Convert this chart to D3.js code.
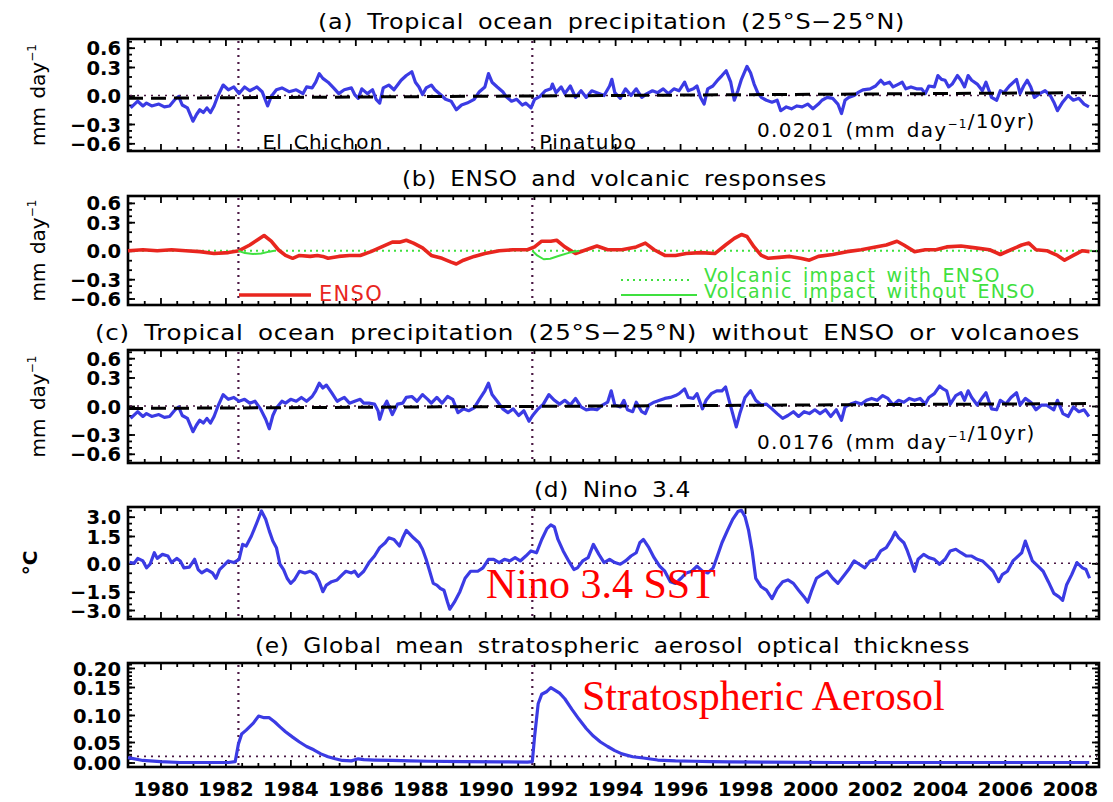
<!DOCTYPE html>
<html>
<head>
<meta charset="utf-8">
<script src="https://cdn.jsdelivr.net/npm/d3@7"></script>
<style>
  body { margin: 0; background: #fff; }
  svg text { font-family: "DejaVu Sans", sans-serif; }
</style>
</head>
<body>
<div id="chart"></div>
<script>
// ---- data ----
const xTickYears = d3.range(1980, 2009, 2);
const volcanoYears = [1982.4, 1991.45];
const volcanoNames = ["El Chichon", "Pinatubo"];

const precipTicks = [-0.6, -0.3, 0, 0.3, 0.6];
const ninoTicks = [-3, -1.5, 0, 1.5, 3];
const aodTicks = [0, 0.05, 0.10, 0.15, 0.20];

// (a) tropical ocean precipitation anomaly
const yearsA = [1979.08,1979.30,1979.46,1979.57,1979.73,1979.95,1980.12,1980.28,1980.45,1980.56,1980.67,1980.83,1980.94,1981.00,1981.11,1981.21,1981.32,1981.43,1981.54,1981.65,1981.76,1981.93,1982.09,1982.26,1982.42,1982.59,1982.75,1982.97,1983.13,1983.30,1983.41,1983.57,1983.74,1983.96,1984.18,1984.39,1984.50,1984.67,1984.78,1984.89,1985.00,1985.16,1985.33,1985.49,1985.66,1985.88,1985.98,1986.09,1986.20,1986.37,1986.53,1986.64,1986.75,1986.86,1987.03,1987.19,1987.41,1987.57,1987.74,1987.85,1987.96,1988.07,1988.18,1988.34,1988.45,1988.62,1988.78,1988.95,1989.11,1989.27,1989.44,1989.66,1989.82,1989.99,1990.10,1990.21,1990.37,1990.54,1990.64,1990.81,1990.97,1991.14,1991.25,1991.41,1991.52,1991.69,1991.85,1992.02,1992.07,1992.18,1992.34,1992.45,1992.62,1992.78,1992.95,1993.11,1993.28,1993.44,1993.66,1993.83,1993.90,1993.99,1994.16,1994.32,1994.49,1994.65,1994.82,1994.98,1995.15,1995.31,1995.48,1995.64,1995.81,1995.97,1996.14,1996.25,1996.41,1996.52,1996.63,1996.74,1996.85,1997.01,1997.18,1997.29,1997.42,1997.56,1997.67,1997.78,1997.89,1998.06,1998.17,1998.28,1998.39,1998.50,1998.66,1998.83,1998.99,1999.10,1999.27,1999.43,1999.60,1999.76,1999.93,2000.09,2000.26,2000.37,2000.53,2000.70,2000.86,2000.97,2001.08,2001.19,2001.36,2001.47,2001.63,2001.85,2002.02,2002.18,2002.29,2002.45,2002.56,2002.73,2002.84,2002.95,2003.11,2003.28,2003.44,2003.55,2003.66,2003.83,2003.94,2004.05,2004.16,2004.27,2004.38,2004.54,2004.65,2004.76,2004.87,2004.98,2005.15,2005.31,2005.42,2005.59,2005.75,2005.86,2005.97,2006.14,2006.36,2006.47,2006.58,2006.69,2006.80,2006.91,2007.07,2007.24,2007.40,2007.51,2007.62,2007.78,2007.95,2008.11,2008.28,2008.44,2008.59];
const precipA = [-0.13,-0.06,-0.11,-0.08,-0.11,-0.09,-0.12,-0.11,-0.04,-0.01,-0.10,-0.13,-0.22,-0.27,-0.20,-0.15,-0.18,-0.13,-0.18,-0.11,-0.01,0.11,0.06,0.09,0.02,0.09,0.05,0.09,0.04,-0.11,-0.01,0.06,0.08,0.04,0.06,0.02,0.09,0.08,0.14,0.23,0.18,0.14,0.08,0.02,0.06,0.08,0.01,-0.03,0.07,0.02,0.06,-0.04,-0.08,0.08,0.11,0.06,0.16,0.21,0.25,0.14,0.09,0.01,0.08,0.11,0.06,0.01,-0.04,-0.06,-0.15,-0.10,-0.08,-0.04,0.04,0.09,0.23,0.14,0.09,0.04,-0.01,-0.06,-0.04,-0.10,-0.08,-0.13,-0.04,-0.01,0.05,0.07,0.12,0.03,0.09,0.02,0.10,-0.02,0.05,-0.02,0.05,0.03,0.00,0.10,0.17,0.03,-0.03,0.07,0.00,0.07,-0.02,0.02,0.05,0.03,0.07,0.02,0.07,0.05,0.14,0.05,0.07,0.10,-0.02,-0.09,0.07,0.10,0.17,0.21,0.26,0.14,-0.05,0.05,0.17,0.31,0.24,0.12,0.03,-0.02,-0.05,-0.07,-0.05,-0.16,-0.12,-0.14,-0.11,-0.12,-0.09,-0.14,-0.09,-0.05,-0.02,-0.03,-0.09,-0.19,-0.05,-0.02,0.00,0.03,0.06,0.07,0.10,0.16,0.12,0.14,0.09,0.12,0.14,0.07,0.09,0.07,0.07,0.02,0.10,0.09,0.21,0.17,0.16,0.09,0.12,0.21,0.16,0.09,0.21,0.16,0.12,0.05,0.14,-0.02,-0.05,0.05,0.03,0.10,0.17,0.02,0.10,0.16,0.09,-0.02,0.02,0.05,0.00,-0.07,-0.16,-0.07,0.00,-0.05,-0.03,-0.09,-0.12];

// trend lines (end points), slopes printed on the panels
const trendYears = [1979.0, 2008.7];
const trendA = [-0.030, 0.030];
const trendC = [-0.026, 0.026];

// (b) ENSO response and volcanic response
const yearsEnso = [1979.00,1979.46,1979.90,1980.34,1980.78,1981.21,1981.65,1982.09,1982.42,1982.75,1982.97,1983.19,1983.41,1983.63,1983.85,1984.07,1984.28,1984.61,1984.83,1985.00,1985.16,1985.49,1985.82,1986.15,1986.48,1986.81,1987.14,1987.36,1987.57,1987.79,1988.07,1988.34,1988.67,1988.95,1989.11,1989.33,1989.66,1989.99,1990.43,1990.86,1991.30,1991.52,1991.74,1992.02,1992.20,1992.45,1992.78,1993.11,1993.44,1993.77,1994.21,1994.65,1994.93,1995.20,1995.53,1995.86,1996.19,1996.63,1997.07,1997.40,1997.67,1997.89,1998.06,1998.28,1998.50,1998.72,1999.05,1999.38,1999.71,1999.98,2000.26,2000.70,2001.14,2001.58,2002.02,2002.35,2002.68,2002.89,2003.22,2003.55,2003.88,2004.21,2004.65,2005.09,2005.53,2005.86,2006.19,2006.52,2006.74,2006.96,2007.29,2007.62,2007.84,2008.11,2008.39,2008.61];
const enso = [0.00,0.01,0.00,0.01,0.00,-0.01,-0.03,-0.02,0.00,0.06,0.11,0.16,0.10,0.01,-0.05,-0.08,-0.05,-0.06,-0.05,-0.06,-0.08,-0.06,-0.05,-0.05,-0.01,0.04,0.09,0.09,0.11,0.08,0.03,-0.05,-0.08,-0.12,-0.14,-0.10,-0.06,-0.03,0.00,0.01,0.01,0.04,0.10,0.10,0.11,0.04,-0.03,0.01,0.05,0.01,0.01,0.04,0.08,0.01,-0.05,-0.05,-0.03,-0.02,-0.03,0.06,0.13,0.17,0.15,0.04,-0.05,-0.08,-0.07,-0.06,-0.08,-0.10,-0.06,-0.04,-0.01,0.01,0.04,0.06,0.10,0.06,-0.01,0.01,0.01,0.04,0.05,0.03,0.01,-0.04,0.01,0.06,0.08,0.01,0.00,-0.05,-0.10,-0.05,0.00,-0.01];
const yearsVolc = [1982.40,1982.60,1982.85,1983.10,1983.35,1983.50,null,1991.45,1991.60,1991.80,1992.00,1992.30,1992.60,1992.90];
const volcNoEnso = [0.00,-0.025,-0.035,-0.03,-0.01,0.00,null,0.00,-0.05,-0.09,-0.085,-0.05,-0.02,0.00];

// (c) precipitation without ENSO or volcanoes
const yearsC = [1979.08,1979.30,1979.46,1979.57,1979.73,1979.95,1980.12,1980.28,1980.45,1980.56,1980.67,1980.83,1980.94,1981.00,1981.11,1981.21,1981.32,1981.43,1981.54,1981.65,1981.76,1981.93,1982.09,1982.26,1982.42,1982.59,1982.75,1982.91,1983.08,1983.24,1983.35,1983.46,1983.57,1983.74,1983.85,1984.01,1984.18,1984.34,1984.50,1984.67,1984.78,1984.89,1985.00,1985.11,1985.27,1985.44,1985.54,1985.66,1985.82,1985.98,1986.15,1986.26,1986.42,1986.59,1986.70,1986.75,1986.86,1986.97,1987.14,1987.30,1987.46,1987.57,1987.74,1987.90,1988.07,1988.23,1988.34,1988.51,1988.67,1988.84,1989.00,1989.16,1989.33,1989.49,1989.66,1989.82,1989.99,1990.10,1990.21,1990.37,1990.54,1990.70,1990.86,1991.03,1991.19,1991.35,1991.46,1991.63,1991.79,1991.96,1992.13,1992.29,1992.45,1992.62,1992.78,1992.95,1993.11,1993.28,1993.44,1993.61,1993.77,1993.88,1993.99,1994.16,1994.27,1994.38,1994.54,1994.65,1994.82,1994.93,1995.04,1995.20,1995.37,1995.53,1995.70,1995.86,1995.97,1996.14,1996.25,1996.41,1996.52,1996.69,1996.80,1996.96,1997.13,1997.29,1997.40,1997.51,1997.62,1997.73,1997.84,1998.00,1998.17,1998.33,1998.50,1998.66,1998.83,1998.99,1999.16,1999.32,1999.49,1999.65,1999.82,1999.98,2000.15,2000.31,2000.48,2000.64,2000.81,2000.97,2001.08,2001.25,2001.41,2001.58,2001.74,2001.90,2002.07,2002.24,2002.40,2002.56,2002.73,2002.89,2003.06,2003.22,2003.39,2003.55,2003.66,2003.83,2003.99,2004.10,2004.21,2004.32,2004.49,2004.65,2004.76,2004.87,2004.98,2005.15,2005.31,2005.42,2005.59,2005.75,2005.86,2006.03,2006.19,2006.36,2006.47,2006.63,2006.80,2006.96,2007.13,2007.29,2007.51,2007.62,2007.79,2007.95,2008.11,2008.28,2008.44,2008.59];
const precipC = [-0.13,-0.06,-0.11,-0.08,-0.11,-0.09,-0.12,-0.11,-0.04,-0.01,-0.10,-0.13,-0.22,-0.27,-0.20,-0.15,-0.18,-0.13,-0.18,-0.11,-0.01,0.12,0.07,0.09,0.05,0.07,0.03,0.05,-0.03,-0.14,-0.24,-0.10,-0.02,0.05,0.03,0.07,0.05,0.09,0.05,0.10,0.16,0.24,0.19,0.22,0.14,0.05,0.07,0.09,0.03,0.05,0.07,0.03,0.03,0.02,-0.05,-0.14,-0.02,0.05,-0.09,0.02,0.03,0.09,0.10,0.05,0.12,0.07,0.03,0.09,0.03,0.10,0.07,-0.07,-0.03,-0.05,-0.02,0.07,0.16,0.24,0.12,0.05,-0.03,-0.07,-0.03,-0.10,-0.05,-0.16,-0.10,-0.03,0.02,0.12,0.06,0.02,0.06,0.01,0.08,-0.01,-0.04,-0.03,-0.04,0.01,0.04,0.16,0.01,-0.01,0.06,-0.04,-0.06,0.04,-0.06,-0.08,0.01,0.04,0.06,0.08,0.09,0.11,0.13,0.18,0.09,0.08,0.13,-0.03,0.06,0.13,0.16,0.16,0.20,0.06,-0.08,-0.22,-0.08,0.09,0.16,0.06,0.01,0.02,-0.03,-0.08,-0.13,-0.10,-0.06,-0.11,-0.06,-0.08,-0.04,-0.08,-0.04,-0.11,-0.04,-0.15,-0.01,0.02,0.04,0.02,0.06,0.08,0.06,0.11,0.08,0.01,0.06,0.04,0.08,0.06,0.08,0.02,0.09,0.13,0.21,0.18,0.16,0.02,0.11,0.14,0.06,0.16,0.09,0.01,0.09,0.14,-0.03,-0.04,0.06,0.02,0.09,0.14,0.01,0.08,0.04,-0.04,0.01,0.01,-0.04,0.06,-0.08,-0.11,-0.01,-0.06,-0.04,-0.11];

// (d) Nino 3.4 SST anomaly
const yearsN = [1979.05,1979.19,1979.30,1979.46,1979.57,1979.68,1979.81,1979.90,1980.06,1980.23,1980.34,1980.50,1980.61,1980.72,1980.89,1981.05,1981.16,1981.27,1981.43,1981.60,1981.71,1981.82,1981.93,1982.09,1982.26,1982.42,1982.53,1982.64,1982.80,1982.97,1983.11,1983.24,1983.35,1983.46,1983.57,1983.68,1983.79,1983.90,1984.01,1984.12,1984.28,1984.45,1984.61,1984.78,1984.89,1985.00,1985.11,1985.27,1985.44,1985.60,1985.71,1985.88,1985.98,1986.09,1986.26,1986.42,1986.59,1986.75,1986.92,1987.03,1987.19,1987.36,1987.46,1987.57,1987.68,1987.79,1987.96,1988.07,1988.18,1988.29,1988.40,1988.51,1988.62,1988.73,1988.84,1988.91,1989.05,1989.22,1989.38,1989.55,1989.77,1989.93,1990.10,1990.26,1990.43,1990.59,1990.76,1990.92,1991.08,1991.25,1991.41,1991.58,1991.74,1991.90,1992.02,1992.13,1992.24,1992.40,1992.57,1992.73,1992.84,1993.00,1993.17,1993.33,1993.50,1993.66,1993.83,1993.99,1994.16,1994.32,1994.49,1994.65,1994.76,1994.87,1995.04,1995.20,1995.37,1995.53,1995.70,1995.86,1996.03,1996.19,1996.36,1996.52,1996.69,1996.85,1997.02,1997.13,1997.29,1997.46,1997.62,1997.78,1997.89,1998.00,1998.11,1998.22,1998.33,1998.50,1998.66,1998.83,1998.99,1999.16,1999.32,1999.49,1999.65,1999.82,1999.93,2000.04,2000.20,2000.37,2000.53,2000.70,2000.86,2001.03,2001.19,2001.36,2001.52,2001.69,2001.85,2002.02,2002.18,2002.35,2002.51,2002.62,2002.73,2002.89,2003.00,2003.11,2003.22,2003.33,2003.50,2003.66,2003.83,2003.99,2004.16,2004.32,2004.49,2004.65,2004.82,2004.98,2005.15,2005.31,2005.48,2005.64,2005.81,2005.92,2006.08,2006.25,2006.36,2006.52,2006.63,2006.74,2006.85,2007.02,2007.18,2007.34,2007.51,2007.67,2007.78,2007.90,2008.06,2008.22,2008.39,2008.50,2008.61];
const nino = [0.05,0.00,0.27,0.13,-0.24,-0.05,0.58,0.27,0.49,0.40,0.04,0.27,0.13,-0.24,-0.20,0.22,-0.33,-0.51,-0.33,-0.51,-0.79,-0.33,-0.15,0.13,0.04,0.22,1.04,0.95,1.50,2.55,3.45,2.80,1.90,1.22,0.86,-0.05,-0.33,-0.79,-1.06,-0.88,-0.42,-0.51,-0.42,-0.60,-0.97,-1.50,-1.15,-0.97,-0.88,-0.60,-0.42,-0.51,-0.42,-0.69,-0.42,0.04,0.40,0.86,1.13,1.40,1.31,0.95,1.40,1.93,1.64,1.40,1.13,0.77,0.22,-0.42,-1.06,-1.15,-1.33,-1.42,-2.36,-2.93,-2.36,-1.50,-0.79,-0.42,-0.42,-0.24,0.22,0.22,0.04,0.22,0.13,0.31,0.13,0.40,0.68,0.58,1.31,2.07,2.36,2.20,1.31,0.68,0.13,-0.33,-0.24,0.13,0.31,1.04,0.49,0.04,0.22,0.04,-0.05,0.13,0.40,0.58,1.13,1.31,0.86,0.31,-0.15,-0.42,-0.97,-1.06,-0.79,-0.51,-0.42,-0.15,-0.42,-0.51,-0.24,0.31,1.13,1.93,2.79,3.40,3.50,3.00,1.93,0.68,-0.79,-1.24,-1.42,-2.07,-1.33,-0.97,-0.88,-1.06,-1.42,-1.93,-2.36,-1.50,-0.79,-0.60,-0.42,-0.79,-1.06,-0.69,-0.33,0.13,-0.05,-0.24,0.13,0.22,0.68,0.86,1.31,1.79,1.40,1.13,0.68,0.13,-0.42,0.22,0.49,0.31,0.22,-0.05,0.22,0.68,0.77,0.58,0.40,0.40,0.22,0.13,-0.15,-0.42,-0.97,-0.60,-0.42,0.13,0.31,0.58,1.22,0.68,0.13,-0.15,-0.42,-0.97,-1.64,-1.93,-2.21,-1.15,-0.60,0.04,-0.24,-0.33,-0.79];

// (e) global mean stratospheric aerosol optical thickness
const yearsE = [1979.00,1979.46,1980.00,1980.60,1982.10,1982.30,1982.40,1982.50,1982.64,1982.86,1983.02,1983.19,1983.35,1983.52,1983.68,1983.85,1984.07,1984.28,1984.50,1984.72,1984.94,1985.16,1985.38,1985.60,1985.88,1986.09,1986.26,1986.59,1987.14,1987.68,1988.23,1989.33,1990.43,1991.30,1991.45,1991.52,1991.63,1991.74,1991.90,1992.02,1992.13,1992.29,1992.45,1992.67,1992.89,1993.11,1993.33,1993.55,1993.77,1993.99,1994.21,1994.54,1994.87,1995.31,1995.86,1996.41,1996.96,1997.51,1998.61,2000.80,2008.60];
const aod = [0.012,0.005,0.002,0.000,0.000,0.002,0.045,0.065,0.072,0.085,0.098,0.095,0.095,0.087,0.078,0.069,0.059,0.050,0.039,0.031,0.021,0.014,0.009,0.005,0.004,0.009,0.007,0.006,0.005,0.004,0.003,0.002,0.0015,0.001,0.002,0.060,0.120,0.137,0.142,0.149,0.145,0.139,0.129,0.110,0.092,0.075,0.061,0.050,0.039,0.029,0.021,0.014,0.011,0.006,0.004,0.003,0.002,0.0015,0.001,0.000,0.000];
const aodRef = 0.015;

// ---- page ----
const blue = "#3b3be4", red = "#e8261f", green = "#3fe03f", plum = "#4a1844";

const svg = d3.select("#chart")
  .append("svg")
  .attr("width", 1113)
  .attr("height", 802)
  .style("background", "#fff");

const x = d3.scaleLinear().domain([1979, 2008.9]).range([128, 1099]);
const minorYears = d3.range(1979.5, 2008.9, 0.5).filter(v => v % 2 !== 0);

// title box: start x and width taken from the figure
const panels = [
  { title: "(a) Tropical ocean precipitation (25°S−25°N)", tx: 318, tw: 587, unit: "mm",
    top: 39, bottom: 151, ticks: precipTicks, pos: [143.3, 124, 95.5, 67, 47.7],
    minor: d3.range(-7, 8).map(i => i / 10), fmt: d3.format(".1f") },
  { title: "(b) ENSO and volcanic responses", tx: 402, tw: 425, unit: "mm",
    top: 196, bottom: 305, ticks: precipTicks, pos: [298.5, 279.2, 250.7, 222.2, 202.9],
    minor: d3.range(-7, 8).map(i => i / 10), fmt: d3.format(".1f") },
  { title: "(c) Tropical ocean precipitation (25°S−25°N) without ENSO or volcanoes", tx: 95, tw: 985, unit: "mm",
    top: 350, bottom: 463, ticks: precipTicks, pos: [453.8, 434.5, 406, 377.5, 358.2],
    minor: d3.range(-7, 8).map(i => i / 10), fmt: d3.format(".1f") },
  { title: "(d) Nino 3.4", tx: 534, tw: 157, unit: "degC",
    top: 507, bottom: 619, ticks: ninoTicks, pos: [610, 591.7, 563.3, 536, 516.7],
    minor: d3.range(-8, 9).map(i => i / 2), fmt: d3.format(".1f") },
  { title: "(e) Global mean stratospheric aerosol optical thickness", tx: 255, tw: 715, unit: null,
    top: 663, bottom: 767, ticks: aodTicks, pos: [762.5, 742, 715, 687, 668],
    minor: d3.range(-1, 22).map(i => i / 100), fmt: d3.format(".2f") }
];

panels.forEach(p => {
  p.y = d3.scaleLinear().domain(p.ticks).range(p.pos);
});

function addSup(sel, parts, size) {
  parts.forEach(([t, sup]) => {
    sel.append("tspan")
      .attr("dy", sup ? -0.45 * size : 0)
      .style("font-size", sup ? (size * 0.6) + "px" : null)
      .text(t);
    if (sup) sel.append("tspan").attr("dy", 0.45 * size).text("");
  });
}

function frame(p, i) {
  const g = svg.append("g");
  const inner = d => d > p.top + 1 && d < p.bottom - 1;

  // x ticks, inward, on top and bottom edges
  [[d3.axisBottom, p.bottom], [d3.axisTop, p.top]].forEach(([ax, yy]) => {
    const major = ax(x).tickValues(xTickYears).tickSize(-7).tickSizeOuter(0).tickFormat("");
    if (ax === d3.axisBottom && i === panels.length - 1) {
      major.tickFormat(d3.format("d")).tickPadding(15);
    }
    g.append("g").attr("class", "xax").attr("transform", `translate(0,${yy})`).call(major);
    g.append("g").attr("transform", `translate(0,${yy})`)
      .call(ax(x).tickValues(minorYears).tickSize(-4).tickSizeOuter(0).tickFormat(""));
  });

  // y ticks, inward, on left and right edges
  const minorVals = p.minor.filter(v => inner(p.y(v)));
  [[d3.axisLeft, x.range()[0]], [d3.axisRight, x.range()[1]]].forEach(([ax, xx]) => {
    const major = ax(p.y).tickValues(p.ticks).tickSize(-7).tickSizeOuter(0).tickFormat("");
    if (ax === d3.axisLeft) major.tickFormat(p.fmt).tickPadding(7);
    g.append("g").attr("class", "yax").attr("transform", `translate(${xx},0)`).call(major);
    g.append("g").attr("transform", `translate(${xx},0)`)
      .call(ax(p.y).tickValues(minorVals).tickSize(-4).tickSizeOuter(0).tickFormat(""));
  });

  g.selectAll(".domain").remove();
  g.selectAll(".tick line").attr("stroke", "#000").attr("stroke-width", 1.8);
  g.selectAll(".tick text")
    .attr("fill", "#000")
    .style("font-size", "20px")
    .style("font-weight", "bold")
    .style("font-family", "'DejaVu Sans', sans-serif");
  g.selectAll(".yax .tick text").attr("dy", "0.36em").style("font-size", "19.5px");

  g.append("rect")
    .attr("x", x.range()[0])
    .attr("y", p.top)
    .attr("width", x.range()[1] - x.range()[0])
    .attr("height", p.bottom - p.top)
    .attr("fill", "none")
    .attr("stroke", "#000")
    .attr("stroke-width", 2.6);

  // title, wide lettering like the original
  svg.append("text")
    .attr("x", p.tx)
    .attr("y", p.top - 10)
    .attr("textLength", p.tw)
    .attr("lengthAdjust", "spacingAndGlyphs")
    .style("font-size", "21px")
    .style("letter-spacing", "0.6px")
    .style("word-spacing", "5px")
    .text(p.title);

  // y axis label
  if (p.unit) {
    const cy = (p.top + p.bottom) / 2;
    const lab = svg.append("text")
      .attr("transform", `translate(${p.unit === "mm" ? 45 : 37},${cy}) rotate(-90)`)
      .attr("text-anchor", "middle")
      .style("font-size", "20px")
      .style("word-spacing", "2px");
    if (p.unit === "mm") addSup(lab, [["mm day", false], ["−1", true]], 20);
    else lab.style("font-weight", "bold").text("°C");
  }

  // volcano markers
  volcanoYears.forEach(v => {
    svg.append("line")
      .attr("x1", x(v)).attr("x2", x(v))
      .attr("y1", p.top + 2).attr("y2", p.bottom - 2)
      .attr("stroke", plum)
      .attr("stroke-width", 2.2)
      .attr("stroke-dasharray", "2,5");
  });
}

panels.forEach(frame);

const line = (y) => d3.line()
  .defined(d => d[0] !== null && d[1] !== null)
  .x(d => x(d[0]))
  .y(d => y(d[1]));

function hline(p, v, color, dash, w) {
  svg.append("line")
    .attr("x1", x.range()[0] + 2).attr("x2", x.range()[1] - 2)
    .attr("y1", p.y(v)).attr("y2", p.y(v))
    .attr("stroke", color)
    .attr("stroke-width", w)
    .attr("stroke-dasharray", dash);
}

function series(p, xs, ys, color, w, dash) {
  svg.append("path")
    .datum(d3.zip(xs, ys))
    .attr("fill", "none")
    .attr("stroke", color)
    .attr("stroke-width", w)
    .attr("stroke-linejoin", "round")
    .attr("stroke-dasharray", dash || null)
    .attr("d", line(p.y));
}

const [pa, pb, pc, pd, pe] = panels;

// (a)
hline(pa, 0, plum, "2,5", 1.6);
series(pa, yearsA, precipA, blue, 3.2);
series(pa, trendYears, trendA, "#000", 3, "15,8");

// (b)
hline(pb, 0, green, "2,4", 2);
series(pb, yearsEnso, enso, red, 3.6);
series(pb, yearsVolc, volcNoEnso, green, 2);

// (c)
hline(pc, 0, plum, "2,5", 1.6);
series(pc, yearsC, precipC, blue, 3.2);
series(pc, trendYears, trendC, "#000", 3, "15,8");

// (d)
hline(pd, 0, plum, "2,5", 1.6);
series(pd, yearsN, nino, blue, 3.2);

// (e)
hline(pe, aodRef, plum, "2,5", 1.6);
series(pe, yearsE, aod, blue, 3.2);

// ---- annotations ----
const txt = (xx, yy, color, size) => svg.append("text")
  .attr("x", xx).attr("y", yy)
  .attr("fill", color)
  .style("font-size", size + "px")
  .style("letter-spacing", "1.3px")
  .style("word-spacing", "3px");

txt(x(volcanoYears[0]) + 24, pa.bottom - 2, "#000", 20).text(volcanoNames[0]);
txt(x(volcanoYears[1]) + 7, pa.bottom - 2, "#000", 20).text(volcanoNames[1]);

addSup(txt(757, pa.bottom - 14, "#000", 20), [["0.0201 (mm day", false], ["−1", true], ["/10yr)", false]], 20);
addSup(txt(757, pc.bottom - 14, "#000", 20), [["0.0176 (mm day", false], ["−1", true], ["/10yr)", false]], 20);

// legend in (b)
svg.append("line").attr("x1", 239).attr("x2", 311).attr("y1", 295).attr("y2", 295)
  .attr("stroke", red).attr("stroke-width", 3.6);
txt(319, 301, red, 21).text("ENSO");
svg.append("line").attr("x1", 621).attr("x2", 693).attr("y1", 280).attr("y2", 280)
  .attr("stroke", green).attr("stroke-width", 2).attr("stroke-dasharray", "2,4");
txt(704, 282, green, 19).text("Volcanic impact with ENSO");
svg.append("line").attr("x1", 621).attr("x2", 697).attr("y1", 295).attr("y2", 295)
  .attr("stroke", green).attr("stroke-width", 2);
txt(704, 298, green, 19).text("Volcanic impact without ENSO");

// red overlay labels
svg.append("text")
  .attr("x", 486).attr("y", 598)
  .attr("fill", "#ff0000")
  .style("font-family", "'Liberation Serif', serif")
  .style("font-size", "42px")
  .text("Nino 3.4 SST");

svg.append("text")
  .attr("x", 582).attr("y", 710)
  .attr("fill", "#ff0000")
  .style("font-family", "'Liberation Serif', serif")
  .style("font-size", "42px")
  .text("Stratospheric Aerosol");
</script>
</body>
</html>
